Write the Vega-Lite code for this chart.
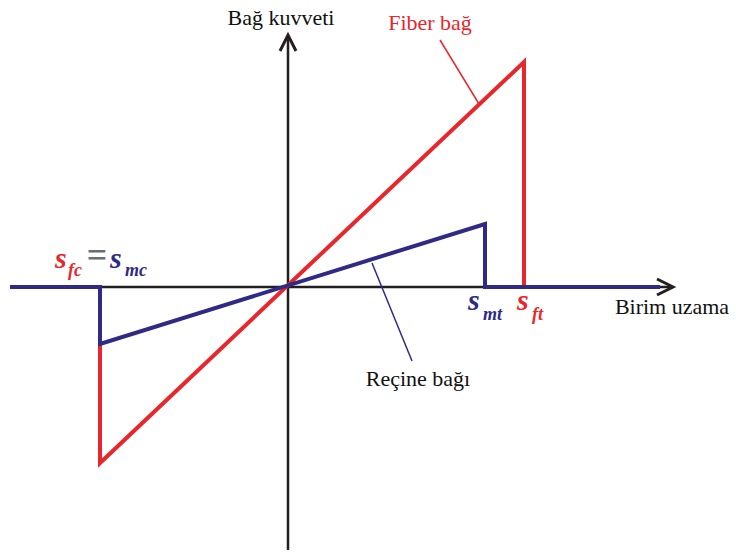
{
  "$schema": "https://vega.github.io/schema/vega-lite/v6.json",
  "width": 736,
  "height": 555,
  "autosize": {"type": "fit", "contains": "padding"},
  "padding": 0,
  "background": "white",
  "config": {"view": {"stroke": null}},
  "encoding": {
    "x": {"field": "x", "type": "quantitative", "scale": {"domain": [-288, 448], "nice": false, "zero": false}, "axis": null},
    "y": {"field": "y", "type": "quantitative", "scale": {"domain": [-268, 287], "nice": false, "zero": false}, "axis": null}
  },
  "layer": [
    {
      "data": {"values": [
        {"x": -278, "y": 0, "x2": 383, "y2": 0},
        {"x": 0, "y": -263, "x2": 0, "y2": 250}
      ]},
      "mark": {"type": "rule", "color": "#231f20", "strokeWidth": 2.5},
      "encoding": {"x2": {"field": "x2"}, "y2": {"field": "y2"}}
    },
    {
      "data": {"values": [
        {"x": 385, "y": 0, "dir": "right"},
        {"x": 0, "y": 252, "dir": "up"}
      ]},
      "mark": {"type": "point", "shape": "M-1,-0.5L0,0L-1,0.5", "filled": false, "stroke": "#231f20", "strokeWidth": 3, "size": 1024, "opacity": 1},
      "encoding": {
        "angle": {"field": "dir", "type": "nominal", "scale": {"domain": ["right", "up"], "range": [0, 270]}, "legend": null}
      }
    },
    {
      "data": {"values": [
        {"i": 0, "x": -188, "y": -57},
        {"i": 1, "x": -188, "y": -176},
        {"i": 2, "x": 236, "y": 225},
        {"i": 3, "x": 236, "y": 0}
      ]},
      "mark": {"type": "line", "color": "#e8262b", "strokeWidth": 4, "strokeJoin": "miter"},
      "encoding": {"order": {"field": "i", "type": "quantitative"}}
    },
    {
      "data": {"values": [
        {"i": 0, "x": -278, "y": 0},
        {"i": 1, "x": -188, "y": 0},
        {"i": 2, "x": -188, "y": -57},
        {"i": 3, "x": 197, "y": 63},
        {"i": 4, "x": 197, "y": 0},
        {"i": 5, "x": 372, "y": 0}
      ]},
      "mark": {"type": "line", "color": "#2e2a86", "strokeWidth": 4, "strokeJoin": "miter"},
      "encoding": {"order": {"field": "i", "type": "quantitative"}}
    },
    {
      "data": {"values": [
        {"x": 152, "y": 247, "x2": 191, "y2": 183}
      ]},
      "mark": {"type": "rule", "color": "#e8262b", "strokeWidth": 1.5},
      "encoding": {"x2": {"field": "x2"}, "y2": {"field": "y2"}}
    },
    {
      "data": {"values": [
        {"x": 84, "y": 24, "x2": 124, "y2": -74}
      ]},
      "mark": {"type": "rule", "color": "#2e2a86", "strokeWidth": 1.5},
      "encoding": {"x2": {"field": "x2"}, "y2": {"field": "y2"}}
    },
    {
      "data": {"values": [
        {"x": -7, "y": 262, "label": "Bağ kuvveti", "c": "black"},
        {"x": 384, "y": -27, "label": "Birim uzama", "c": "black"},
        {"x": 142, "y": 257, "label": "Fiber bağ", "c": "red"},
        {"x": 130, "y": -99, "label": "Reçine bağı", "c": "black"}
      ]},
      "mark": {"type": "text", "font": "'Liberation Serif', 'DejaVu Serif', serif", "fontSize": 22, "align": "center", "baseline": "alphabetic"},
      "encoding": {
        "text": {"field": "label"},
        "color": {"field": "c", "type": "nominal", "scale": {"domain": ["black", "red", "blue"], "range": ["#111111", "#e8262b", "#2e2a86"]}, "legend": null}
      }
    },
    {
      "data": {"values": [
        {"x": -233, "y": 19, "label": "s", "c": "red"},
        {"x": -178, "y": 19, "label": "s", "c": "blue"},
        {"x": 180, "y": -23, "label": "s", "c": "blue"},
        {"x": 229, "y": -23, "label": "s", "c": "red"}
      ]},
      "mark": {"type": "text", "font": "'Liberation Serif', 'DejaVu Serif', serif", "fontSize": 30, "fontStyle": "italic", "fontWeight": "bold", "align": "left", "baseline": "alphabetic"},
      "encoding": {
        "text": {"field": "label"},
        "color": {"field": "c", "type": "nominal", "scale": {"domain": ["black", "red", "blue"], "range": ["#111111", "#e8262b", "#2e2a86"]}, "legend": null}
      }
    },
    {
      "data": {"values": [
        {"x": -220, "y": 11, "label": "fc", "c": "red"},
        {"x": -163, "y": 11, "label": "mc", "c": "blue"},
        {"x": 195, "y": -33, "label": "mt", "c": "blue"},
        {"x": 244, "y": -33, "label": "ft", "c": "red"}
      ]},
      "mark": {"type": "text", "font": "'Liberation Serif', 'DejaVu Serif', serif", "fontSize": 18, "fontStyle": "italic", "fontWeight": "bold", "align": "left", "baseline": "alphabetic"},
      "encoding": {
        "text": {"field": "label"},
        "color": {"field": "c", "type": "nominal", "scale": {"domain": ["black", "red", "blue"], "range": ["#111111", "#e8262b", "#2e2a86"]}, "legend": null}
      }
    },
    {
      "data": {"values": [
        {"x": -191, "y": 31, "label": "="}
      ]},
      "mark": {"type": "text", "font": "'Liberation Serif', 'DejaVu Serif', serif", "fontSize": 36, "fontWeight": "bold", "align": "center", "baseline": "middle", "color": "#6d6e71"},
      "encoding": {"text": {"field": "label"}}
    }
  ]
}
